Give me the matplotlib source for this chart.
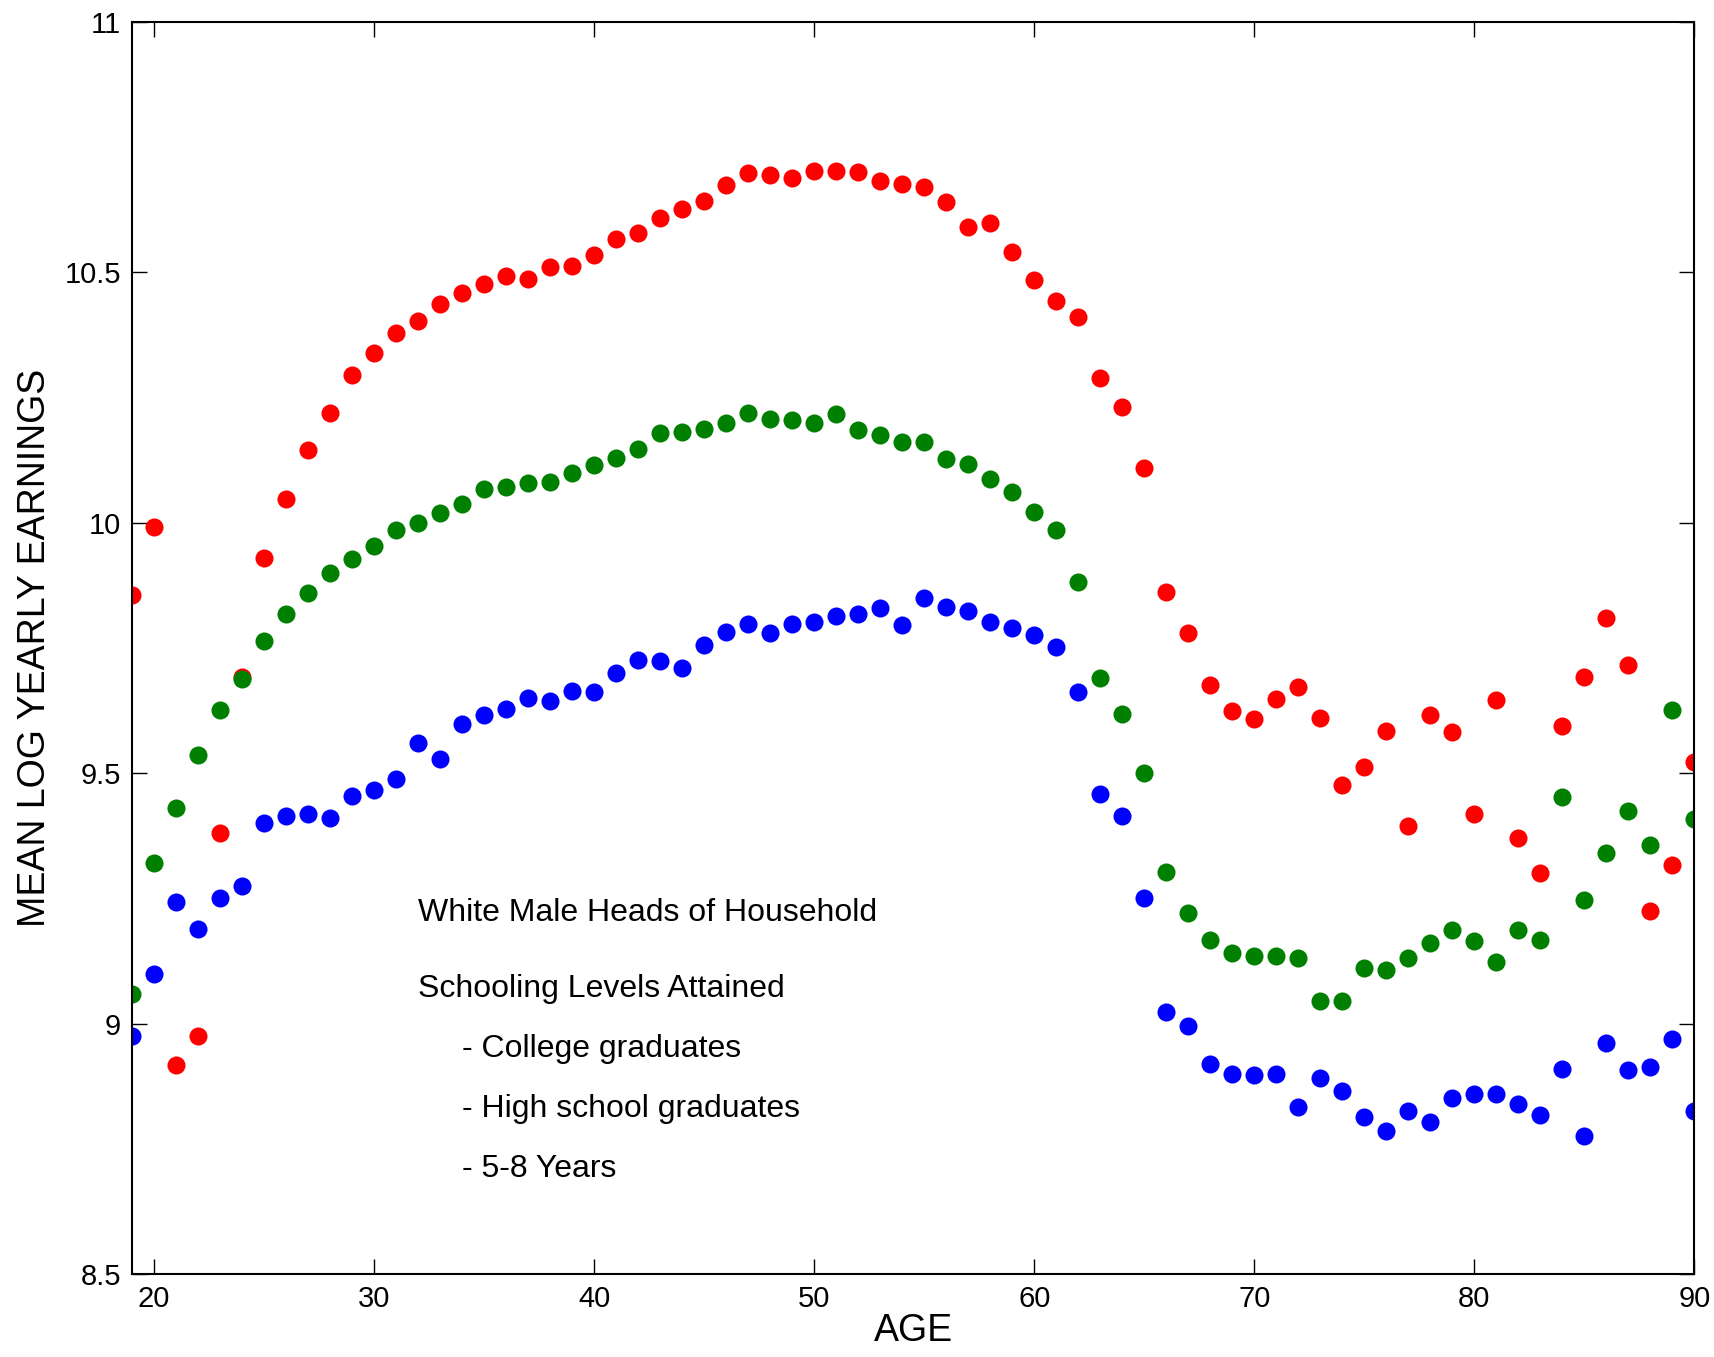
import matplotlib.pyplot as plt

plt.rcParams['font.family'] = ['Liberation Sans', 'DejaVu Sans']

# ages 19..90
ages = list(range(19, 91))

# College graduates (red)
college = [9.856, 9.991, 8.917, 8.976, 9.380, 9.692, 9.930, 10.048, 10.146, 10.218,
           10.295, 10.338, 10.378, 10.402, 10.437, 10.459, 10.476, 10.493, 10.487, 10.511,
           10.513, 10.535, 10.566, 10.579, 10.609, 10.627, 10.642, 10.675, 10.699, 10.694,
           10.688, 10.703, 10.703, 10.701, 10.683, 10.677, 10.670, 10.640, 10.590, 10.598,
           10.541, 10.485, 10.443, 10.410, 10.288, 10.231, 10.109, 9.862, 9.779, 9.677,
           9.624, 9.609, 9.648, 9.672, 9.611, 9.476, 9.513, 9.585, 9.395, 9.616,
           9.583, 9.419, 9.646, 9.371, 9.301, 9.594, 9.692, 9.810, 9.716, 9.225,
           9.317, 9.522]

# High school graduates (green)
high_school = [9.059, 9.321, 9.430, 9.537, 9.627, 9.688, 9.764, 9.817, 9.860, 9.900,
               9.928, 9.954, 9.985, 10.000, 10.020, 10.037, 10.068, 10.072, 10.079, 10.081,
               10.100, 10.116, 10.129, 10.148, 10.179, 10.181, 10.188, 10.199, 10.218, 10.207,
               10.205, 10.199, 10.216, 10.186, 10.175, 10.162, 10.162, 10.127, 10.118, 10.087,
               10.061, 10.022, 9.985, 9.882, 9.690, 9.618, 9.500, 9.303, 9.221, 9.168,
               9.142, 9.135, 9.135, 9.131, 9.046, 9.046, 9.111, 9.107, 9.131, 9.162,
               9.188, 9.166, 9.124, 9.188, 9.168, 9.452, 9.247, 9.341, 9.424, 9.356,
               9.627, 9.408]

# 5-8 years (blue)
grade_school = [8.976, 9.100, 9.242, 9.190, 9.251, 9.275, 9.400, 9.415, 9.419, 9.410,
                9.454, 9.467, 9.489, 9.561, 9.528, 9.598, 9.616, 9.629, 9.651, 9.644,
                9.664, 9.662, 9.701, 9.725, 9.723, 9.710, 9.755, 9.782, 9.797, 9.779,
                9.797, 9.801, 9.814, 9.817, 9.830, 9.795, 9.849, 9.832, 9.823, 9.801,
                9.790, 9.775, 9.751, 9.662, 9.459, 9.415, 9.251, 9.024, 8.996, 8.919,
                8.900, 8.898, 8.900, 8.834, 8.891, 8.865, 8.814, 8.786, 8.825, 8.803,
                8.852, 8.860, 8.860, 8.840, 8.817, 8.910, 8.775, 8.961, 8.908, 8.913,
                8.969, 8.825]

x_ticks = [20, 30, 40, 50, 60, 70, 80, 90]
y_ticks = [8.5, 9, 9.5, 10, 10.5, 11]
y_tick_labels = ['8.5', '9', '9.5', '10', '10.5', '11']

notes = ["White Male Heads of Household", "Schooling Levels Attained"]
legend_lines = ["- College graduates", "- High school graduates", "- 5-8 Years"]

fig = plt.figure(figsize=(17.15, 13.57), dpi=100)
ax = fig.add_axes([0.077, 0.061, 0.911, 0.923])

ax.plot(ages, college, 'o', color='#ff0000', markersize=13, markeredgewidth=0)
ax.plot(ages, high_school, 'o', color='#008000', markersize=13, markeredgewidth=0)
ax.plot(ages, grade_school, 'o', color='#0000ff', markersize=13, markeredgewidth=0)

ax.set_xlim(19, 90)
ax.set_ylim(8.5, 11)
ax.set_xticks(x_ticks)
ax.set_yticks(y_ticks)
ax.set_yticklabels(y_tick_labels)
ax.tick_params(direction='in', length=11, width=1, top=True, right=True,
               labelsize=21, pad=8)
for s in ax.spines.values():
    s.set_linewidth(1.5)

ax.set_xlabel("AGE", fontsize=27, labelpad=0)
ax.set_ylabel("MEAN LOG YEARLY EARNINGS", fontsize=27, labelpad=8)

# annotation text block
ax.text(32.0, 9.22, notes[0], fontsize=23, va='center')
ax.text(32.0, 9.07, notes[1], fontsize=23, va='center')
for i, line in enumerate(legend_lines):
    ax.text(34.0, 8.95 - 0.12 * i, line, fontsize=23, va='center')

fig.savefig('out.png', dpi=100)
